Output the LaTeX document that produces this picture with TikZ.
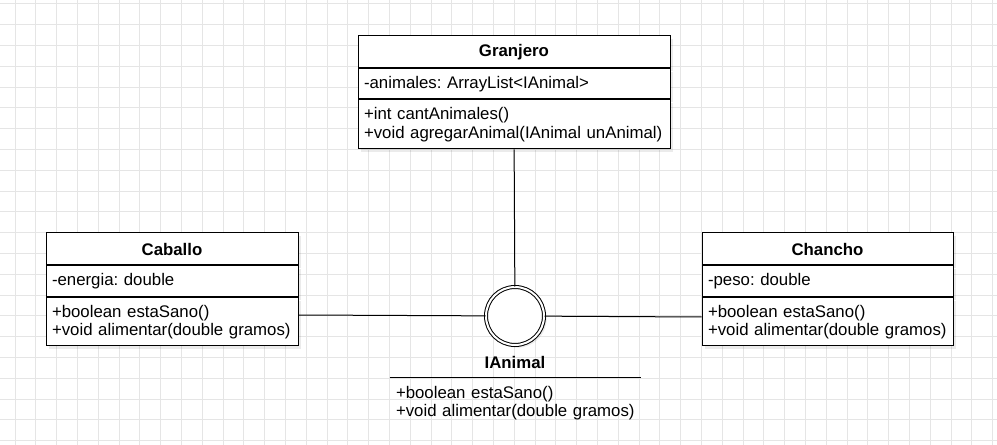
\documentclass[tikz,border=0pt]{standalone}
\usepackage{fontspec}
\setmainfont{Liberation Sans}
\usepackage{tikz}
\usetikzlibrary{positioning,shadows}
\frenchspacing

\tikzset{
  gridline/.style={draw=black!10, line width=0.75pt},
  umlshadow/.style={drop shadow={shadow xshift=2pt, shadow yshift=-2pt, fill=black, opacity=0.08}},
  classhead/.style={draw, fill=white, line width=0.75pt, font=\fontsize{12.6}{13.75}\selectfont\bfseries, inner sep=0pt, minimum height=24pt, umlshadow},
  classpart/.style={draw, fill=white, line width=0.75pt, align=left, inner xsep=4.5pt, inner ysep=2pt, umlshadow},
  iface/.style={circle, draw, double, double distance=1.5pt, line width=0.75pt, fill=white, inner sep=0pt, minimum size=43.5pt, umlshadow},
  link/.style={line width=0.75pt}
}

\begin{document}
\begin{tikzpicture}[x=0.75pt, y=-0.75pt, font=\fontsize{12.6}{13.75}\selectfont]
      \fill[white] (0,0) rectangle (997,445);
      \useasboundingbox (0,0) rectangle (997,445);
      % background grid
      \foreach \i in {0,...,47} \draw[gridline] (15+20.8*\i,0) -- (15+20.8*\i,445);
      \foreach \j in {0,...,21} \draw[gridline] (0,4+20.8*\j) -- (997,4+20.8*\j);

      % Granjero
      \node[classhead, minimum width=234pt] (granjero) at (514,52) {Granjero};
      \node[classpart, text width=225pt, minimum height=22.5pt, below=0pt of granjero] (granjero-attr) {-animales: ArrayList<IAnimal>};
      \node[classpart, text width=225pt, minimum height=36.75pt, below=0pt of granjero-attr] (granjero-ops) {+int cantAnimales()\\+void agregarAnimal(IAnimal unAnimal)};

      % Caballo
      \node[classhead, minimum width=189pt] (caballo) at (172,249) {Caballo};
      \node[classpart, text width=180pt, minimum height=23.25pt, below=0pt of caballo] (caballo-attr) {-energia: double};
      \node[classpart, text width=180pt, minimum height=36pt, below=0pt of caballo-attr] (caballo-ops) {+boolean estaSano()\\+void alimentar(double gramos)};

      % Chancho
      \node[classhead, minimum width=188.25pt] (chancho) at (827.5,249) {Chancho};
      \node[classpart, text width=179.25pt, minimum height=23.25pt, below=0pt of chancho] (chancho-attr) {-peso: double};
      \node[classpart, text width=179.25pt, minimum height=36pt, below=0pt of chancho-attr] (chancho-ops) {+boolean estaSano()\\+void alimentar(double gramos)};

      % IAnimal
      \node[iface] (ianimal) at (515,316) {};
      \node[font=\fontsize{12.6}{13.75}\selectfont\bfseries, inner sep=0pt] (ianimal-name) at (515,362) {IAnimal};
      \node[align=left, text width=179.25pt, inner xsep=4.5pt, inner ysep=6pt, anchor=north] (ianimal-ops) at (515.5,378) {+boolean estaSano()\\+void alimentar(double gramos)};
      \draw[link] (ianimal-ops.north west) -- (ianimal-ops.north east);

      \draw[link] (granjero-ops) -- (ianimal);
      \draw[link] ([yshift=5.25pt]caballo-ops.east) -- (ianimal);
      \draw[link] (ianimal) -- ([yshift=3.75pt]chancho-ops.west);
    \end{tikzpicture}
\end{document}
